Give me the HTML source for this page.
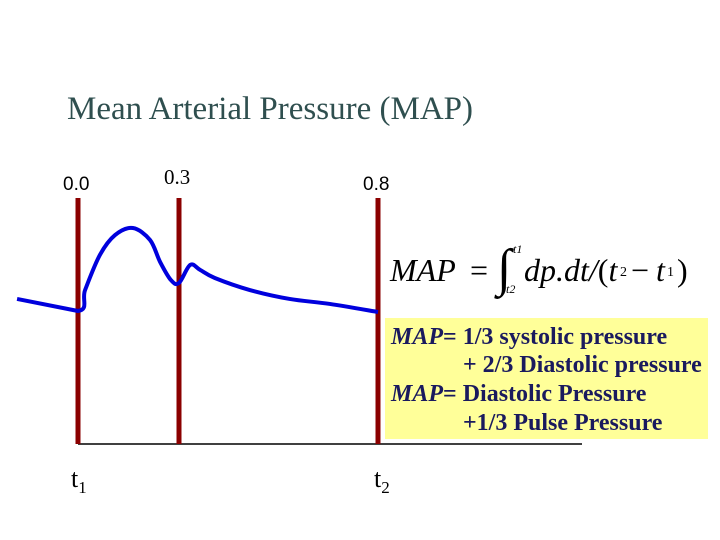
<!DOCTYPE html>
<html><head><meta charset="utf-8"><style>
html,body{margin:0;padding:0;background:#fff;}
#wrap{position:relative;width:720px;height:540px;overflow:hidden;font-family:"Liberation Serif",serif;}
.t{position:absolute;white-space:nowrap;}
.f{position:absolute;white-space:nowrap;font-family:"Liberation Serif",serif;line-height:1;}
.eq{position:absolute;white-space:nowrap;font-size:24px;font-weight:bold;color:#1a1a5e;line-height:1;}
</style></head><body>
<div id="wrap">
<div class="t" style="left:67px;top:91px;font-size:33px;color:#2f4f4f;">Mean Arterial Pressure (MAP)</div>
<div id="yb" style="position:absolute;left:385px;top:318px;width:323px;height:121px;background:#ffff99;"></div>
<svg id="chart" width="720" height="540" style="position:absolute;left:0;top:0"></svg>
<div>
<div class="f" style="left:390px;top:254px;font-size:32px;font-style:italic;">MAP</div>
<div class="f" style="left:470px;top:254px;font-size:32px;">=</div>
<div class="f" style="left:497px;top:243px;font-size:52px;">∫</div>
<div class="f" style="left:513px;top:243px;font-size:12px;font-style:italic;">t1</div>
<div class="f" style="left:506px;top:283px;font-size:12px;font-style:italic;">t2</div>
<div class="f" style="left:524px;top:254px;font-size:32px;font-style:italic;">dp.dt/<span style="font-style:normal">(</span>t</div>
<div class="f" style="left:620px;top:266px;font-size:14px;">2</div>
<div class="f" style="left:631px;top:254px;font-size:32px;">−</div>
<div class="f" style="left:656px;top:254px;font-size:32px;font-style:italic;">t</div>
<div class="f" style="left:667px;top:266px;font-size:14px;">1</div>
<div class="f" style="left:677px;top:254px;font-size:32px;">)</div>
</div>
<div>
<div class="eq" style="left:391px;top:325px;"><i>MAP</i>= 1/3 systolic pressure</div>
<div class="eq" style="left:463px;top:353px;">+ 2/3 Diastolic pressure</div>
<div class="eq" style="left:391px;top:382px;"><i>MAP</i>= Diastolic Pressure</div>
<div class="eq" style="left:463px;top:411px;">+1/3 Pulse Pressure</div>
</div>
<div class="t" style="left:71px;top:464px;font-size:26px;">t<sub style="font-size:17px">1</sub></div>
<div class="t" style="left:374px;top:464px;font-size:26px;">t<sub style="font-size:17px">2</sub></div>
</div>
<script>
const tickTimes=[0.0,0.3,0.8];
const tickLabels=["0.0","0.3","0.8"];
const curveT=[-0.181,0,0.021,0.065,0.110,0.163,0.214,0.244,0.276,0.3,0.328,0.353,0.390,0.478,0.578,0.679,0.8];
const curveP=[85.8,80,90.1,107,116.6,120,114.2,103.6,94.9,93.5,102.2,99.8,95.9,90.1,85.8,83.4,79.5];
const NS="http://www.w3.org/2000/svg";
const svg=document.getElementById('chart');
const dom=[0,0.3,0.8], rng=[78,179,378];
function xs(t){let i=t<dom[1]?0:1;return rng[i]+(t-dom[i])*(rng[i+1]-rng[i])/(dom[i+1]-dom[i]);}
function ys(p){return 311-(p-80)*2.075;}
function mk(tag,a){const e=document.createElementNS(NS,tag);for(const k in a)e.setAttribute(k,a[k]);svg.appendChild(e);return e;}
const base=mk('line',{x1:78,y1:444,x2:582,y2:444,stroke:'#000','stroke-width':1.5});


const labelY=[190,184,190], labelSize=[19,21,19];
tickTimes.forEach((t,i)=>{
 const l=mk('line',{x1:xs(t),y1:198,x2:xs(t),y2:444,stroke:'#8b0000','stroke-width':5});
 
 
 const tx=mk('text',{x:xs(t)-15,y:labelY[i],'font-size':labelSize[i],'font-family':i==1?'Liberation Serif, serif':'Liberation Sans, sans-serif'});
 tx.textContent=tickLabels[i];
 
 
});
const pts=curveT.map((t,i)=>[xs(t),ys(curveP[i])]);
let d='M'+pts[0][0]+','+pts[0][1];
for(let i=0;i<pts.length-1;i++){
 if(i==0){d+=' L'+pts[1][0]+','+pts[1][1];continue;}
 const p0=pts[i-1],p1=pts[i],p2=pts[i+1],p3=pts[i+2]||p2;
 const c1=[p1[0]+(p2[0]-p0[0])/6,p1[1]+(p2[1]-p0[1])/6];
 const c2=[p2[0]-(p3[0]-p1[0])/6,p2[1]-(p3[1]-p1[1])/6];
 d+=` C${c1[0]},${c1[1]} ${c2[0]},${c2[1]} ${p2[0]},${p2[1]}`;
}
const path=mk('path',{d:d,fill:'none',stroke:'#0000dd','stroke-width':4,'stroke-linejoin':'round'});


</script>
</body></html>
